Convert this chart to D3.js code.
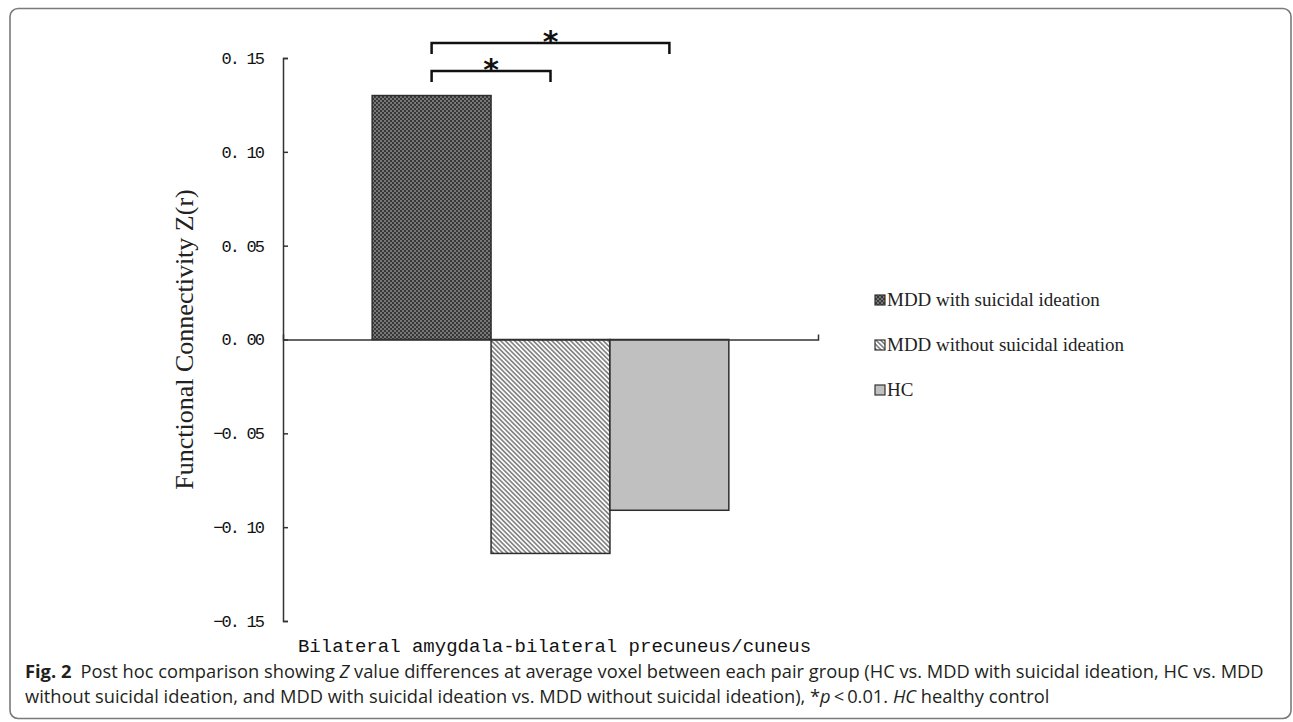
<!DOCTYPE html>
<html>
<head>
<meta charset="utf-8">
<script src="https://cdn.jsdelivr.net/npm/d3@7"></script>
<style>
  body { margin: 0; background: #fff; }
  svg { display: block; }
</style>
</head>
<body>
<svg id="chart" width="1293" height="722"></svg>
<script>
const categories = ['Bilateral amygdala-bilateral precuneus/cuneus']
const groups = ['MDD with suicidal ideation', 'MDD without suicidal ideation', 'HC']
const values = [0.130, -0.114, -0.091]
const yTicks = [-0.15, -0.10, -0.05, 0, 0.05, 0.10, 0.15]
// pairs of group indices marked significant
const sigPairs = [[0, 2], [0, 1]]
const sigLabel = '*'

const svg = d3.select('svg#chart')
const defs = svg.append('defs')

// dark cross-hatch for the first group
const hatch = defs.append('pattern')
  .attr('id', 'pat-cross')
  .attr('patternUnits', 'userSpaceOnUse')
  .attr('width', 4).attr('height', 4)
hatch.append('rect').attr('width', 4).attr('height', 4).attr('fill', '#383838')
hatch.append('rect').attr('x', 0).attr('y', 0).attr('width', 2).attr('height', 2).attr('fill', '#777')
hatch.append('rect').attr('x', 2).attr('y', 2).attr('width', 2).attr('height', 2).attr('fill', '#777')

// diagonal stripes for the second group
const stripes = defs.append('pattern')
  .attr('id', 'pat-stripe')
  .attr('patternUnits', 'userSpaceOnUse')
  .attr('width', 3.3).attr('height', 3.3)
  .attr('patternTransform', 'rotate(-45)')
stripes.append('rect').attr('width', 3.3).attr('height', 3.3).attr('fill', '#fff')
stripes.append('rect').attr('width', 1.7).attr('height', 3.3).attr('fill', '#858585')

const fills = ['url(#pat-cross)', 'url(#pat-stripe)', '#c0c0c0']

// outer frame
svg.append('rect')
  .attr('x', 10).attr('y', 8.5)
  .attr('width', 1281).attr('height', 710)
  .attr('rx', 8)
  .attr('fill', 'none')
  .attr('stroke', '#7a7a7a')
  .attr('stroke-width', 1.6)

const y = d3.scaleLinear().domain([-0.15, 0.15]).range([621, 58])
const x0 = d3.scaleBand().domain(categories).range([283, 818])
const x1 = d3.scaleBand().domain(groups).range([0, x0.bandwidth()]).paddingOuter(0.75)

const chart = svg.append('g')

chart.selectAll('rect.bar')
  .data(values)
  .enter()
    .append('rect')
      .attr('class', 'bar')
      .attr('x', (d, i) => x0(categories[0]) + x1(groups[i]))
      .attr('width', x1.bandwidth())
      .attr('y', d => y(Math.max(0, d)))
      .attr('height', d => Math.abs(y(d) - y(0)))
      .attr('fill', (d, i) => fills[i])
      .attr('stroke', '#2e2e2e')
      .attr('stroke-width', 1.5)

const fmt = d => d3.format('.2f')(d).replace('.', '. ').replace('-', '\u2212')

const yAxis = chart.append('g')
  .attr('transform', `translate(${x0.range()[0]},0)`)
  .call(d3.axisLeft(y).tickValues(yTicks).tickFormat(fmt).tickSizeInner(-5).tickSizeOuter(-5).tickPadding(20))
yAxis.selectAll('text')
  .attr('font-family', 'Liberation Mono')
  .attr('font-size', 17)
  .attr('letter-spacing', -1.9)
  .attr('fill', '#111')
yAxis.selectAll('path, line').attr('stroke', '#333').attr('stroke-width', 1.5)

const xAxis = chart.append('g')
  .attr('transform', `translate(0,${y(0)})`)
  .call(d3.axisBottom(x0).tickSizeInner(0).tickSizeOuter(-5).tickFormat(''))
xAxis.selectAll('path').attr('stroke', '#333').attr('stroke-width', 1.5)

chart.append('text')
  .attr('x', x0(categories[0]) + x0.bandwidth() / 2 + 4)
  .attr('y', y.range()[0] + 31)
  .attr('text-anchor', 'middle')
  .attr('font-family', 'Liberation Mono')
  .attr('font-size', 19)
  .attr('fill', '#111')
  .text(categories[0])

chart.append('text')
  .attr('transform', `translate(193,${(y.range()[0] + y.range()[1]) / 2}) rotate(-90)`)
  .attr('text-anchor', 'middle')
  .attr('font-family', 'Liberation Serif')
  .attr('font-size', 26)
  .attr('fill', '#222')
  .text('Functional Connectivity Z(r)')

// significance brackets
const barCenter = i => x0(categories[0]) + x1(groups[i]) + x1.bandwidth() / 2
const bracketY = [43, 71]
const sig = chart.selectAll('g.sig')
  .data(sigPairs)
  .enter()
    .append('g')
      .attr('class', 'sig')
sig.append('path')
  .attr('d', (d, i) => `M${barCenter(d[0])},${bracketY[i] + 11}V${bracketY[i]}H${barCenter(d[1])}V${bracketY[i] + 11}`)
  .attr('fill', 'none')
  .attr('stroke', '#111')
  .attr('stroke-width', 2.5)
sig.append('text')
  .attr('x', d => (barCenter(d[0]) + barCenter(d[1])) / 2)
  .attr('y', (d, i) => bracketY[i] + 9)
  .attr('text-anchor', 'middle')
  .attr('font-family', 'DejaVu Sans')
  .attr('font-weight', 'bold')
  .attr('font-size', 30)
  .attr('fill', '#111')
  .text(sigLabel)

// legend
const legend = svg.append('g')
  .attr('class', 'legend')
  .selectAll('g')
  .data(groups)
  .enter()
    .append('g')
      .attr('transform', (d, i) => `translate(875,${300 + 45 * i})`)
legend.append('rect')
  .attr('x', 0).attr('y', -5)
  .attr('width', 10).attr('height', 10)
  .attr('fill', (d, i) => fills[i])
  .attr('stroke', '#333')
  .attr('stroke-width', 1.2)
legend.append('text')
  .attr('x', 12).attr('y', 6)
  .attr('font-family', 'Liberation Serif')
  .attr('font-size', 19)
  .attr('fill', '#222')
  .text(d => d)

// caption
const caption = svg.append('g')
  .attr('font-family', 'Open Sans')
  .attr('font-size', 18.3)
  .attr('fill', '#231f20')
const line1 = caption.append('text').attr('x', 25).attr('y', 678)
line1.append('tspan').attr('font-weight', 'bold').text('Fig. 2')
line1.append('tspan').text('\u2002Post hoc comparison showing ')
line1.append('tspan').attr('font-style', 'italic').text('Z')
line1.append('tspan').text(' value differences at average voxel between each pair group (HC vs. MDD with suicidal ideation, HC vs. MDD')
const line2 = caption.append('text').attr('x', 25).attr('y', 703)
line2.append('tspan').text('without suicidal ideation, and MDD with suicidal ideation vs. MDD without suicidal ideation), *')
line2.append('tspan').attr('font-style', 'italic').text('p')
line2.append('tspan').text('\u2009<\u20090.01. ')
line2.append('tspan').attr('font-style', 'italic').text('HC')
line2.append('tspan').text(' healthy control')
</script>
</body>
</html>
